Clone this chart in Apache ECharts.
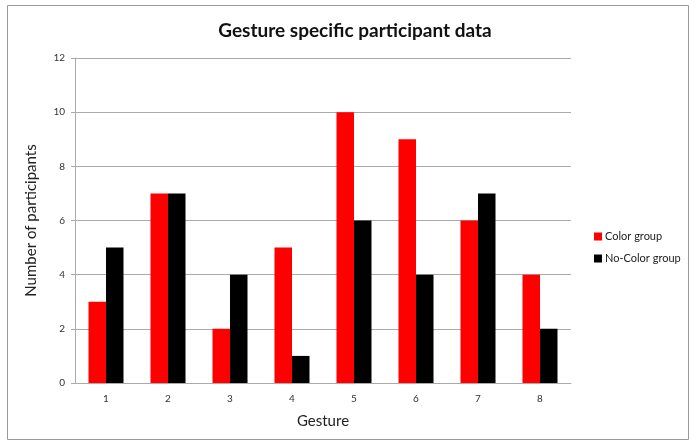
<!DOCTYPE html>
<html>
<head>
<meta charset="utf-8">
<script src="https://cdn.jsdelivr.net/npm/echarts@6/dist/echarts.min.js"></script>
<style>
  html, body { margin: 0; padding: 0; background: #fff; }
  #chart { width: 697px; height: 447px; }
</style>
</head>
<body>
<div id="chart"></div>
<script>
const gestures = ['1', '2', '3', '4', '5', '6', '7', '8'];
const colorGroup = [3, 7, 2, 5, 10, 9, 6, 4];
const noColorGroup = [5, 7, 4, 1, 6, 4, 7, 2];

const font = 'Lato, "Open Sans", sans-serif';
const chart = echarts.init(document.getElementById('chart'), null, { renderer: 'canvas' });

chart.setOption({
  animation: false,
  backgroundColor: '#fff',
  title: {
    text: 'Gesture specific participant data',
    left: 350,
    top: 16,
    textAlign: 'center',
    textStyle: { fontFamily: font, fontSize: 19, fontWeight: 'bold', color: '#111' },
  },
  graphic: [{
    type: 'rect',
    shape: { x: 7.5, y: 5.5, width: 681, height: 434 },
    style: { fill: 'none', stroke: '#999', lineWidth: 1 },
  }],
  legend: {
    orient: 'vertical',
    left: 589,
    top: 226,
    itemWidth: 8,
    itemHeight: 8,
    itemGap: 11,
    icon: 'rect',
    textStyle: { fontFamily: font, fontSize: 11, color: '#222', padding: [0, 0, 0, -2] },
    data: ['Color group', 'No-Color group'],
  },
  grid: { left: 75, right: 126, top: 58, bottom: 64 },
  xAxis: {
    type: 'category',
    data: gestures,
    name: 'Gesture',
    nameLocation: 'middle',
    nameGap: 31,
    nameTextStyle: { fontFamily: font, fontSize: 15, color: '#222' },
    axisLine: { lineStyle: { color: '#aaa' } },
    axisTick: { show: false },
    axisLabel: { fontFamily: font, fontSize: 10, color: '#333', margin: 11 },
  },
  yAxis: {
    type: 'value',
    min: 0,
    max: 12,
    interval: 2,
    name: 'Number of participants',
    nameLocation: 'middle',
    nameGap: 36,
    nameTextStyle: { fontFamily: font, fontSize: 15, color: '#222' },
    axisLine: { show: true, lineStyle: { color: '#aaa' } },
    axisTick: { show: true, length: 4, lineStyle: { color: '#aaa' } },
    axisLabel: { fontFamily: font, fontSize: 10, color: '#333', margin: 10 },
    splitLine: { lineStyle: { color: '#aaa' } },
  },
  series: [
    {
      name: 'Color group',
      type: 'bar',
      data: colorGroup,
      barWidth: 17.5,
      barGap: '0%',
      itemStyle: { color: '#ff0000' },
    },
    {
      name: 'No-Color group',
      type: 'bar',
      data: noColorGroup,
      barWidth: 17.5,
      barGap: '0%',
      itemStyle: { color: '#000000' },
    },
  ],
});
</script>
</body>
</html>
